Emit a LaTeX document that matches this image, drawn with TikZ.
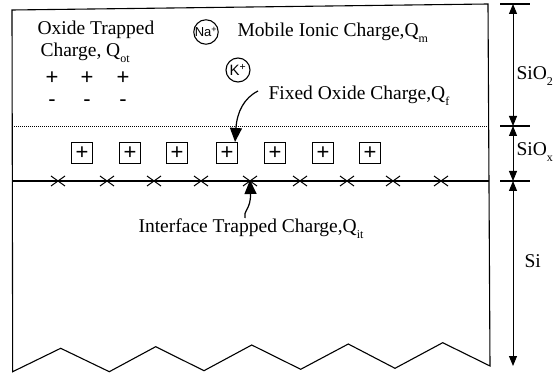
\documentclass[tikz,border=0pt]{standalone}
\usepackage{fontspec}
\setmainfont{Liberation Serif}
\newfontfamily\arialf{Liberation Sans}
\usetikzlibrary{arrows.meta,shapes.misc}
\newcommand\mysub[1]{\raisebox{-6pt}{\fontsize{12}{12}\selectfont #1}}
\begin{document}
\begin{tikzpicture}[x=1pt,y=-1pt,line width=1.1pt,
  lbl/.style={font=\fontsize{19.5}{22}\selectfont, inner sep=0pt, anchor=base west},
  pbox/.style={draw, line width=1.1pt, minimum size=21pt, inner sep=0pt, font=\arialf\fontsize{22}{22}\selectfont},
  xmark/.style={draw, cross out, line width=1pt, minimum width=13pt, minimum height=9pt, inner sep=0pt},
  ion/.style={draw, circle, line width=1.1pt, inner sep=0pt},
  sgn/.style={inner sep=0pt, align=center, font=\arialf\fontsize{22}{22}\selectfont},
  bigarrow/.style={line width=1.2pt, -{Triangle[length=14pt,width=12pt]}},
  dimarrow/.style={line width=1pt, {Triangle[length=10pt,width=8pt]}-{Triangle[length=10pt,width=8pt]}},
  tick/.style={line width=1.1pt}
]
\useasboundingbox (0,0) rectangle (560,374);

% outline of the structure with jagged bottom
\draw (12,10) -- (488,4) -- (490,366)
  -- (442.7,342.7) -- (395,368.3) -- (348.3,344) -- (300.7,369.3)
  -- (251.7,345) -- (204,370.7) -- (155.7,346.7) -- (109.3,371.7)
  -- (60.7,348.3) -- (12.7,371.7) -- cycle;

% layer boundaries
\draw[line width=0.9pt, dash pattern=on 1pt off 1pt] (12,126) -- (488,126);
\draw (12,181) -- (489,181);

% oxide trapped charge
\node[lbl] (ot1) at (37,35) {Oxide Trapped};
\node[lbl] (ot2) at (40,57) {Charge, Q\mysub{ot}};
\node[sgn] (q1) at (52,89) {+\\-};
\node[sgn] (q2) at (87,89) {+\\-};
\node[sgn] (q3) at (123,89) {+\\-};

% mobile ionic charge
\node[ion, minimum size=22pt, font=\arialf\fontsize{13}{13}\selectfont] (na) at (206,32) {Na\textsuperscript{+}};
\node[ion, minimum size=24pt, font=\arialf\fontsize{15}{15}\selectfont] (k) at (238,70) {K\textsuperscript{+}};
\node[lbl] (mob) at (237,37) {Mobile Ionic Charge,Q\mysub{m}};

% fixed oxide charge
\node[lbl] (fix) at (268,100) {Fixed Oxide Charge,Q\mysub{f}};
\foreach \i/\x in {1/82,2/130,3/177,4/227,5/275,6/323,7/370}
  \node[pbox] (b\i) at (\x,153) {+};
\coordinate (fa) at (258,91);
\draw[bigarrow] (fa) .. controls (244,98) and (237,112) .. ([xshift=-3pt]b4.north east);

% interface trapped charge
\foreach \i/\x in {1/58,2/107,3/154,4/201,5/250,6/300,7/347,8/393,9/441}
  \node[xmark] (c\i) at (\x,181) {};
\node[lbl] (itf) at (138,233) {Interface Trapped Charge,Q\mysub{it}};
\coordinate (ia) at (245,218);
\draw[bigarrow] (ia) .. controls (243,211) and (251,209) .. ([yshift=6pt]c5.south);

% dimension lines
\coordinate (d0) at (513,4);
\coordinate (d1) at (513,126);
\coordinate (d2) at (513,181);
\coordinate (d3) at (513,366);
\foreach \d in {d0,d1,d2}
  \draw[tick] ([xshift=-13pt]\d) -- ([xshift=17pt]\d);
\draw[dimarrow] (d0) -- (d1);
\draw[dimarrow] (d1) -- (d2);
\draw[dimarrow] (d2) -- (d3);
\node[lbl] (l1) at (516,80) {SiO\mysub{2}};
\node[lbl] (l2) at (516,156) {SiO\mysub{x}};
\node[lbl] (l3) at (524,268) {Si};
\end{tikzpicture}
\end{document}
